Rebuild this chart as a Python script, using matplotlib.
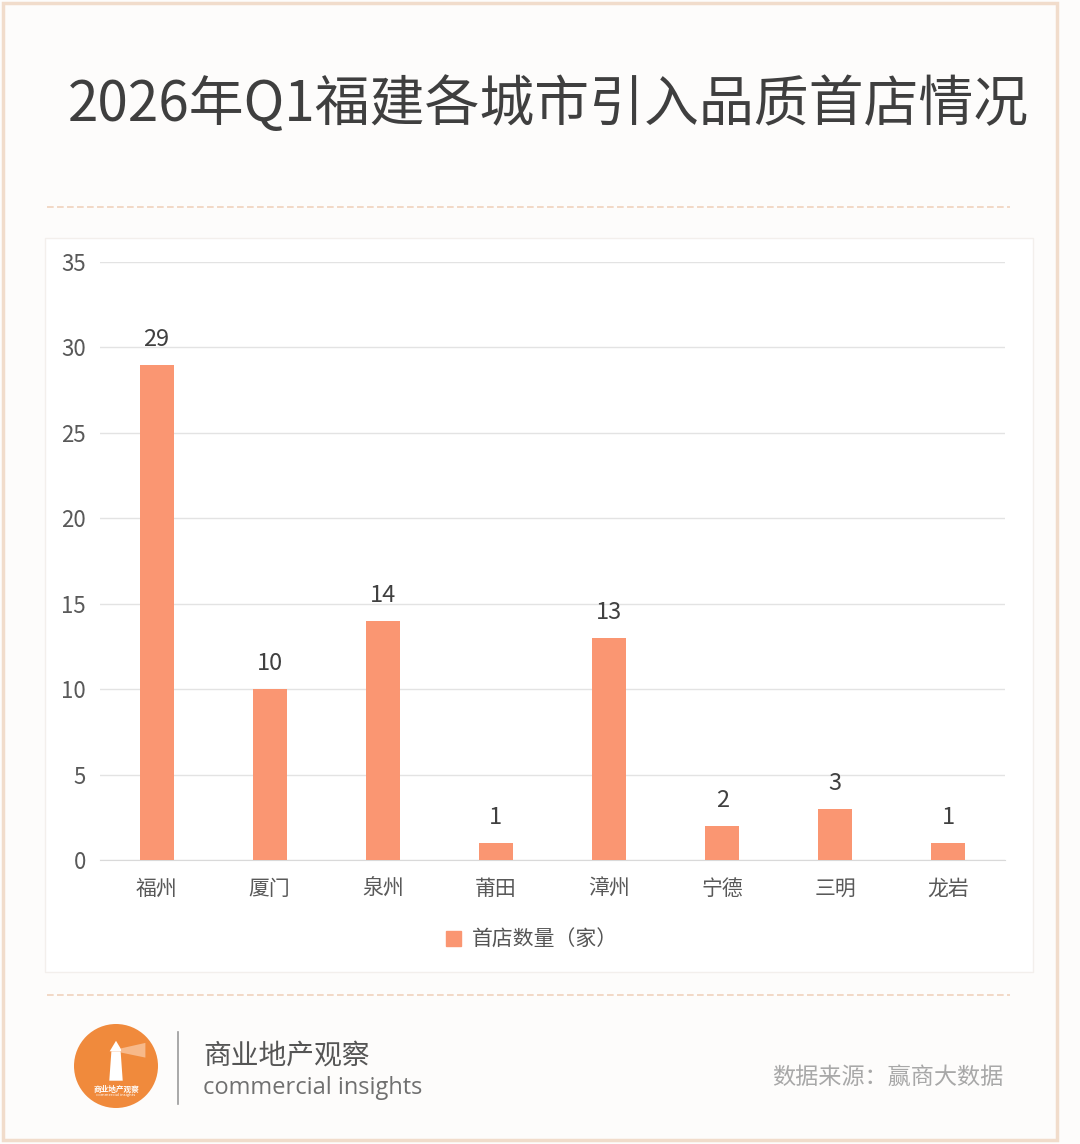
import matplotlib
matplotlib.use("Agg")
import matplotlib.pyplot as plt
from matplotlib.patches import Rectangle, Circle, Polygon
from matplotlib.lines import Line2D

plt.rcParams['font.family'] = ['Noto Sans CJK SC', 'DejaVu Sans']

cities = ['福州', '厦门', '泉州', '莆田', '漳州', '宁德', '三明', '龙岩']
counts = [29, 10, 14, 1, 13, 2, 3, 1]
yticks = [0, 5, 10, 15, 20, 25, 30, 35]
series_name = '首店数量（家）'
title = '2026年Q1福建各城市引入品质首店情况'

W, H = 1080, 1144
fig = plt.figure(figsize=(W / 100, H / 100), dpi=100)
fig.patch.set_facecolor('#fdfcfb')

def fx(x):
    return x / W

def fy(y):
    return 1 - y / H

# outer frame
fig.patches.append(Rectangle((fx(3), fy(1140)), fx(1054), (1137) / H,
                             transform=fig.transFigure, fill=False,
                             edgecolor='#f1dccb', linewidth=2.5, zorder=-2))
# chart panel
fig.patches.append(Rectangle((fx(45), fy(972)), fx(988), (972 - 238) / H,
                             transform=fig.transFigure, facecolor='white',
                             edgecolor='#f3efec', linewidth=1.0, zorder=-1))

# title
fig.text(fx(548), fy(105), title, ha='center', va='center',
         fontsize=39.5, color='#3f3f3f')

# dashed separators
for yy in (207, 995):
    fig.add_artist(Line2D([fx(47), fx(1010)], [fy(yy), fy(yy)],
                          transform=fig.transFigure, color='#f0d2bd',
                          linewidth=1.2, linestyle=(0, (4, 2))))

# axes
ax = fig.add_axes([fx(100), fy(860), fx(1005 - 100), (860 - 262) / H])
ax.set_facecolor('white')
x = range(len(cities))
bars = ax.bar(x, counts, width=0.3, color='#fa9672', zorder=3, label=series_name)
ax.set_xlim(-0.5, len(cities) - 0.5)
ax.set_ylim(0, 35)
ax.set_yticks(yticks)
ax.set_xticks(list(x))
ax.set_xticklabels(cities)
ax.grid(axis='y', color='#e3e3e3', linewidth=1.0, zorder=0)
for s in ('top', 'right', 'left'):
    ax.spines[s].set_visible(False)
ax.spines['bottom'].set_color('#d9d9d9')
ax.tick_params(axis='both', length=0, labelcolor='#595959')
ax.tick_params(axis='y', pad=10, labelsize=16)
ax.tick_params(axis='x', pad=13, labelsize=15)
for b, v in zip(bars, counts):
    ax.annotate(str(v), (b.get_x() + b.get_width() / 2, v),
                xytext=(0, 10), textcoords='offset points',
                ha='center', va='bottom', fontsize=17, color='#404040')

# legend
fig.legend(handles=[Rectangle((0, 0), 1, 1, color='#fa9672')], labels=[series_name],
           loc='center', bbox_to_anchor=(fx(532), fy(940)), frameon=False,
           fontsize=15, handlelength=0.7, handleheight=0.7, handletextpad=0.5,
           labelcolor='#555555')

# footer logo
cx, cy, r = 116, 1066, 42
ax_logo = fig.add_axes([fx(cx - r), fy(cy + r), 2 * r / W, 2 * r / H])
ax_logo.set_xlim(-1, 1)
ax_logo.set_ylim(-1, 1)
ax_logo.set_aspect('equal')
ax_logo.axis('off')
ax_logo.add_patch(Circle((0, 0), 1, facecolor='#f08a3c', edgecolor='none'))
ax_logo.add_patch(Polygon([[-0.16, -0.35], [0.16, -0.35], [0.11, 0.35], [-0.11, 0.35]],
                          facecolor='white', edgecolor='none'))
ax_logo.add_patch(Polygon([[-0.15, 0.35], [0.15, 0.35], [0.0, 0.6]],
                          facecolor='white', edgecolor='none'))
ax_logo.add_patch(Polygon([[0.12, 0.42], [0.7, 0.55], [0.7, 0.2], [0.12, 0.32]],
                          facecolor='#f7b98a', edgecolor='none'))
ax_logo.text(0, -0.55, '商业地产观察', ha='center', va='center', fontsize=5.5,
             color='white', fontweight='bold')
ax_logo.text(0, -0.7, 'commercial insights', ha='center', va='center', fontsize=3,
             color='white')

fig.add_artist(Line2D([fx(178), fx(178)], [fy(1032), fy(1104)],
                      transform=fig.transFigure, color='#9a9a9a', linewidth=1.2))
fig.text(fx(203), fy(1056), '商业地产观察', ha='left', va='center',
         fontsize=20, color='#555555')
fig.text(fx(203), fy(1088), 'commercial insights', ha='left', va='center',
         fontsize=17, color='#707070', family=['Open Sans', 'DejaVu Sans'])
fig.text(fx(1003), fy(1077), '数据来源：赢商大数据', ha='right', va='center',
         fontsize=16.7, color='#a8a8a8')

fig.savefig('out.png', dpi=100, facecolor=fig.get_facecolor())
